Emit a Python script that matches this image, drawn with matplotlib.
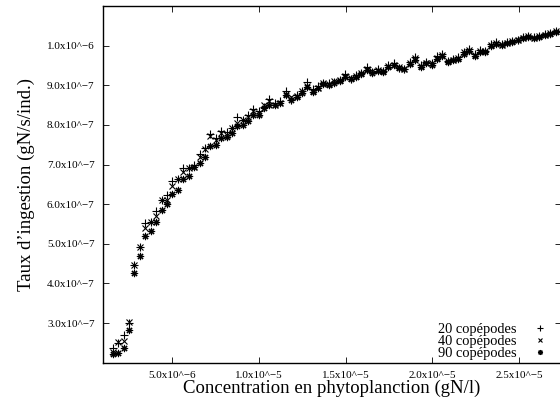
import matplotlib
matplotlib.use("Agg")
import matplotlib.pyplot as plt
import numpy as np

# concentration (units of 1e-6 gN/l)
conc = [1.56, 1.85, 2.19, 2.48, 2.77, 3.12, 3.41, 3.75, 4.04, 4.39, 4.68, 4.97, 5.31, 5.60,
        5.95, 6.24, 6.58, 6.87, 7.16, 7.51, 7.79, 8.14, 8.43, 8.72, 9.06, 9.35, 9.64, 9.99,
        10.28, 10.57, 10.91, 11.20, 11.55, 11.84, 12.18, 12.47, 12.76, 13.11, 13.39, 13.68,
        14.03, 14.32, 14.67, 14.95, 15.30, 15.59, 15.88, 16.22, 16.51, 16.86, 17.15, 17.44,
        17.78, 18.07, 18.36, 18.71, 19.00, 19.34, 19.63, 19.98, 20.27, 20.55, 20.90, 21.19,
        21.48, 21.82, 22.11, 22.46, 22.75, 23.04, 23.38, 23.67, 24.02, 24.31, 24.60, 24.94,
        25.23, 25.52, 25.87, 26.15, 26.50, 26.79, 27.14]

# ingestion rates (units of 1e-7 gN/s/ind.)
cop20 = [2.36, 2.50, 2.70, 3.00, 4.47, 4.91, 5.53, 5.54, 5.82, 6.11, 6.24, 6.58, 6.64, 6.90,
         6.91, 7.00, 7.27, 7.42, 7.76, 7.67, 7.84, 7.81, 7.92, 8.20, 8.13, 8.24, 8.40, 8.35,
         8.45, 8.66, 8.55, 8.60, 8.85, 8.64, 8.75, 8.85, 9.08, 8.90, 8.97, 9.06, 9.05, 9.08,
         9.14, 9.28, 9.16, 9.25, 9.32, 9.45, 9.33, 9.40, 9.35, 9.50, 9.55, 9.44, 9.42, 9.58,
         9.72, 9.50, 9.58, 9.57, 9.75, 9.80, 9.62, 9.66, 9.72, 9.85, 9.92, 9.78, 9.88, 9.87,
         10.04, 10.08, 10.03, 10.08, 10.12, 10.15, 10.21, 10.25, 10.21, 10.25, 10.29, 10.32, 10.37]
cop40 = [2.26, 2.52, 2.54, 3.02, 4.47, 4.91, 5.40, 5.54, 5.69, 6.11, 6.10, 6.45, 6.64, 6.80,
         6.91, 6.95, 7.20, 7.39, 7.73, 7.63, 7.80, 7.75, 7.92, 8.05, 8.13, 8.20, 8.35, 8.30,
         8.50, 8.60, 8.51, 8.56, 8.77, 8.70, 8.72, 8.85, 8.97, 8.85, 8.93, 9.06, 9.02, 9.10,
         9.14, 9.24, 9.18, 9.23, 9.30, 9.41, 9.35, 9.38, 9.37, 9.48, 9.52, 9.46, 9.41, 9.55,
         9.69, 9.48, 9.57, 9.55, 9.69, 9.77, 9.60, 9.65, 9.69, 9.83, 9.90, 9.77, 9.86, 9.86,
         10.02, 10.07, 10.02, 10.07, 10.11, 10.14, 10.20, 10.24, 10.20, 10.24, 10.28, 10.31, 10.36]
cop90 = [2.22, 2.25, 2.38, 2.83, 4.27, 4.68, 5.20, 5.33, 5.54, 5.86, 6.00, 6.26, 6.37, 6.64,
         6.72, 6.95, 7.04, 7.20, 7.46, 7.50, 7.67, 7.70, 7.80, 7.98, 8.00, 8.09, 8.26, 8.24,
         8.42, 8.51, 8.50, 8.54, 8.75, 8.62, 8.70, 8.80, 8.95, 8.82, 8.93, 9.04, 9.00, 9.06,
         9.12, 9.22, 9.15, 9.22, 9.28, 9.38, 9.32, 9.36, 9.34, 9.46, 9.50, 9.43, 9.40, 9.53,
         9.64, 9.46, 9.55, 9.52, 9.66, 9.74, 9.58, 9.63, 9.67, 9.80, 9.87, 9.75, 9.84, 9.85,
         10.00, 10.05, 10.01, 10.06, 10.10, 10.13, 10.19, 10.22, 10.19, 10.23, 10.27, 10.30, 10.35]

labels = ["20 copépodes", "40 copépodes", "90 copépodes"]
xticks = [5.0e-6, 1.0e-5, 1.5e-5, 2.0e-5, 2.5e-5]
xticklabels = ["5.0x10^\u22126", "1.0x10^\u22125", "1.5x10^\u22125", "2.0x10^\u22125", "2.5x10^\u22125"]
yticks = [3e-7, 4e-7, 5e-7, 6e-7, 7e-7, 8e-7, 9e-7, 1e-6]
yticklabels = ["3.0x10^\u22127", "4.0x10^\u22127", "5.0x10^\u22127", "6.0x10^\u22127",
               "7.0x10^\u22127", "8.0x10^\u22127", "9.0x10^\u22127", "1.0x10^\u22126"]

plt.rcParams['font.family'] = ['Liberation Serif', 'DejaVu Serif']

fig = plt.figure(figsize=(5.6, 4.03), dpi=100)
ax = fig.add_axes([103/560, 1 - 362.7/403, (561 - 103)/560, (362.7 - 6)/403])

x = np.array(conc) * 1e-6
ms = 5.2
ax.plot(x, np.array(cop20) * 1e-7, linestyle='none', marker='+', color='black',
        markersize=ms, markeredgewidth=0.8, label=labels[0])
ax.plot(x, np.array(cop40) * 1e-7, linestyle='none', marker='x', color='black',
        markersize=ms * 0.8, markeredgewidth=0.8, label=labels[1])
ax.plot(x, np.array(cop90) * 1e-7, linestyle='none', marker=(8, 2, 0), color='black',
        markersize=ms, markeredgewidth=0.8, label=labels[2])

ax.set_xlim(1.0e-6, 27.42e-6)
ax.set_ylim(2.0e-7, 1.1e-6)
ax.set_xticks(xticks)
ax.set_xticklabels(xticklabels, fontsize=8)
ax.set_yticks(yticks)
ax.set_yticklabels(yticklabels, fontsize=8)
ax.tick_params(direction='in', length=4, width=0.6, top=True, right=True)
ax.tick_params(axis='x', pad=6)
ax.tick_params(axis='y', pad=6)
for s in ax.spines.values():
    s.set_linewidth(1.0)

ax.set_xlabel("Concentration en phytoplanction (gN/l)", fontsize=13.5, labelpad=0)
ax.set_ylabel("Taux d\u2019ingestion (gN/s/ind.)", fontsize=13.5, labelpad=8.5)

leg = ax.legend(loc='lower right', bbox_to_anchor=(554/560, 1 - 365.5/403),
                bbox_transform=fig.transFigure, frameon=False, markerfirst=False,
                fontsize=10.4, labelspacing=-0.1, handlelength=1.2, handletextpad=1.0,
                borderaxespad=0.0, borderpad=0.4, markerscale=0.7)
for t in leg.get_texts():
    t.set_ha('right')

fig.savefig("out.png", dpi=100)
